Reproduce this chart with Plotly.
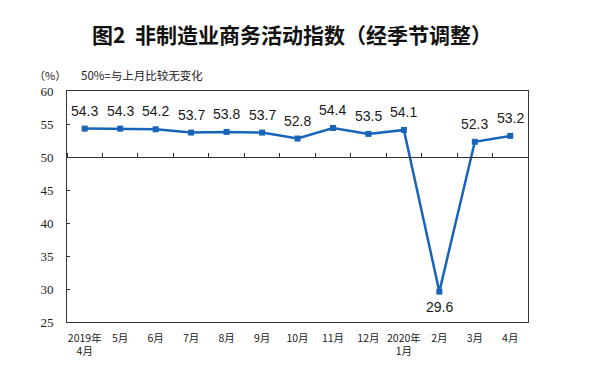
import plotly.graph_objects as go

months = ["2019年<br>4月", "5月", "6月", "7月", "8月", "9月", "10月", "11月", "12月",
          "2020年<br>1月", "2月", "3月", "4月"]
values = [54.3, 54.3, 54.2, 53.7, 53.8, 53.7, 52.8, 54.4, 53.5, 54.1, 29.6, 52.3, 53.2]
label_shift = [18, 18, 18, 18, 18, 18, 18, 18, 18, 18, -15, 18, 18]

title_text = "图2  非制造业商务活动指数（经季节调整）"
unit_text = "（%）"
note_text = "50%=与上月比较无变化"

LINE_COLOR = "#1764b8"
AX_COLOR = "#333333"

# the page body adds an 8px margin, so the figure is drawn 8px smaller
W, H = 591, 368

fig = go.Figure()
fig.add_trace(go.Scatter(
    x=months, y=values, mode="lines+markers",
    line=dict(color=LINE_COLOR, width=2.5),
    marker=dict(symbol="square", size=6, color=LINE_COLOR),
    showlegend=False, hoverinfo="x+y",
))
# invisible trace for the baseline axis at 50
fig.add_trace(go.Scatter(
    x=months, y=values, xaxis="x2", mode="markers",
    marker=dict(opacity=0), showlegend=False, hoverinfo="skip",
))

for m, v, s in zip(months, values, label_shift):
    fig.add_annotation(x=m, y=v, text=f"{v:.1f}", showarrow=False,
                       yshift=s, yanchor="middle", xanchor="center",
                       font=dict(family="Liberation Sans, Arial", size=14, color="#1a1a1a"))

y_min, y_max, base = 25, 60, 50

fig.update_layout(
    width=W, height=H,
    margin=dict(l=59, r=71, t=83, b=54, autoexpand=False),
    paper_bgcolor="white", plot_bgcolor="white",
    title=dict(text=title_text, x=284 / W, xanchor="center", y=1 - 28 / H, yanchor="middle",
               yref="container", automargin=False,
               font=dict(family="Noto Sans CJK SC", size=21, color="#111111", weight="bold")),
    xaxis=dict(
        type="category", categoryarray=months, range=[-0.5, len(months) - 0.5],
        showline=True, mirror=True, linecolor=AX_COLOR, linewidth=1,
        ticks="", showgrid=False, zeroline=False, automargin=False,
        tickfont=dict(family="Noto Sans CJK SC", size=10.5, color="#222222"),
        ticklabelstandoff=6,
    ),
    xaxis2=dict(
        type="category", categoryarray=months, range=[-0.5, len(months) - 0.5],
        overlaying="x", anchor="free", side="top",
        position=(base - y_min) / (y_max - y_min), automargin=False,
        showline=True, linecolor=AX_COLOR, linewidth=1,
        ticks="outside", tickson="boundaries", ticklen=4, tickcolor=AX_COLOR, tickwidth=1,
        showticklabels=False, showgrid=False, zeroline=False,
    ),
    yaxis=dict(
        range=[y_min, y_max], dtick=5, tick0=25, automargin=False,
        showline=True, mirror=True, linecolor=AX_COLOR, linewidth=1,
        ticks="inside", ticklen=3, tickcolor=AX_COLOR,
        showgrid=False, zeroline=False,
        tickfont=dict(family="Liberation Serif", size=13, color="#222222"),
        ticklabelstandoff=10,
    ),
)

fig.add_annotation(text=unit_text, xref="paper", yref="paper",
                   x=(50 - 67) / 461, y=1 + (91 - 75) / 231, xanchor="center", yanchor="middle",
                   showarrow=False,
                   font=dict(family="Noto Sans CJK SC", size=11, color="#222222"))
fig.add_annotation(text=note_text, xref="paper", yref="paper",
                   x=(79 - 67) / 461, y=1 + (91 - 75) / 231, xanchor="left", yanchor="middle",
                   showarrow=False,
                   font=dict(family="Noto Sans CJK SC", size=11.5, color="#222222"))

fig.write_html("out.html")
